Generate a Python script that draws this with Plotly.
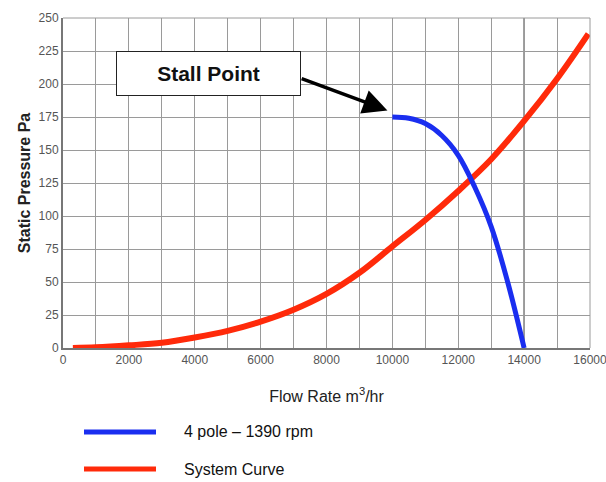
import plotly.graph_objects as go

# Data
fan_flow = [10000, 10500, 11000, 11500, 12000, 12500, 13000, 13500, 14000]
fan_pressure = [175, 174, 170, 161, 146, 122, 92, 50, 0]

sys_flow = [300, 1000, 2000, 3000, 4000, 5000, 6000, 7000, 8000, 9000,
            10000, 11000, 12000, 13000, 14000, 15000, 15950]
sys_pressure = [0, 0.5, 2, 4, 8, 13, 20, 29, 41, 57, 77, 97, 119, 143, 172, 204, 238]

legend_names = ["4 pole \u2013 1390 rpm", "System Curve"]
x_ticks = list(range(0, 16001, 2000))
x_tick_labels = [str(v) for v in x_ticks]
y_ticks = list(range(0, 251, 25))

BLUE = "#1a2ef0"
RED = "#ff2a0a"

fig = go.Figure()
fig.add_trace(go.Scatter(x=sys_flow, y=sys_pressure, mode="lines",
                         line=dict(color=RED, width=6, shape="spline", smoothing=1.0),
                         name=legend_names[1], showlegend=False))
fig.add_trace(go.Scatter(x=fan_flow, y=fan_pressure, mode="lines",
                         line=dict(color=BLUE, width=5, shape="spline"),
                         name=legend_names[0], showlegend=False))

W, H = 606, 482
L, R, T, B = 63, 16, 18, 134
ph = H - T - B
pw = W - L - R

def py(p):
    return (H - B - p) / ph

def px(p):
    return (p - L) / pw

fig.update_layout(
    width=W, height=H,
    margin=dict(l=L, r=R, t=T, b=B, autoexpand=False),
    paper_bgcolor="white", plot_bgcolor="white",
    font=dict(family="Liberation Sans, Arial", color="#222"),
    xaxis=dict(range=[0, 16000], tickvals=x_ticks, ticktext=x_tick_labels, showgrid=True,
               gridcolor="#9a9a9a", gridwidth=1, ticklabeloverflow="allow", automargin=False,
               minor=dict(dtick=1000, showgrid=True, gridcolor="#9a9a9a", gridwidth=1),
               showline=True, linecolor="#777", linewidth=2, mirror=False,
               zeroline=False, ticks="", ticklen=0,
               tickfont=dict(size=12, color="#555"),
               title=dict(text="Flow Rate m<sup>3</sup>/hr", font=dict(size=16, color="#222"), standoff=24)),
    yaxis=dict(range=[0, 250], tickvals=y_ticks, showgrid=True,
               gridcolor="#9a9a9a", gridwidth=1, automargin=False,
               showline=True, linecolor="#777", linewidth=2,
               zeroline=False, ticks="", ticklen=0,
               tickfont=dict(size=12, color="#555"),
               title=dict(text="<b>Static Pressure Pa</b>", font=dict(size=16, color="#222"), standoff=4)),
)

# border top/right
fig.add_shape(type="line", xref="paper", yref="paper", x0=0, x1=1, y0=1, y1=1,
              line=dict(color="#9a9a9a", width=1))
fig.add_shape(type="line", xref="paper", yref="paper", x0=1, x1=1, y0=0, y1=1,
              line=dict(color="#9a9a9a", width=1))
# darker 14000 line
fig.add_shape(type="line", xref="x", yref="paper", x0=14000, x1=14000, y0=0, y1=1,
              line=dict(color="#666", width=1.5), layer="below")

# Stall point box
fig.add_annotation(x=4420, y=208, xref="x", yref="y", text="<b>Stall Point</b>",
                   showarrow=False, font=dict(size=21, color="#111"),
                   bgcolor="white", bordercolor="#222", borderwidth=1,
                   width=181, height=41)
# arrow
fig.add_annotation(x=9850, y=180, ax=7200, ay=204.5, xref="x", yref="y",
                   axref="x", ayref="y", text="", showarrow=True,
                   arrowhead=2, arrowsize=1.4, arrowwidth=3.5, arrowcolor="black")

# legend (manual)
for name, color, ypix in [(legend_names[0], BLUE, 432), (legend_names[1], RED, 469)]:
    fig.add_shape(type="line", xref="paper", yref="paper",
                  x0=px(84), x1=px(156), y0=py(ypix), y1=py(ypix),
                  line=dict(color=color, width=5))
    fig.add_annotation(xref="paper", yref="paper", x=px(182), y=py(ypix),
                       xanchor="left", yanchor="middle", text=name,
                       showarrow=False, font=dict(size=16, color="#111"))

fig.write_html("out.html")
